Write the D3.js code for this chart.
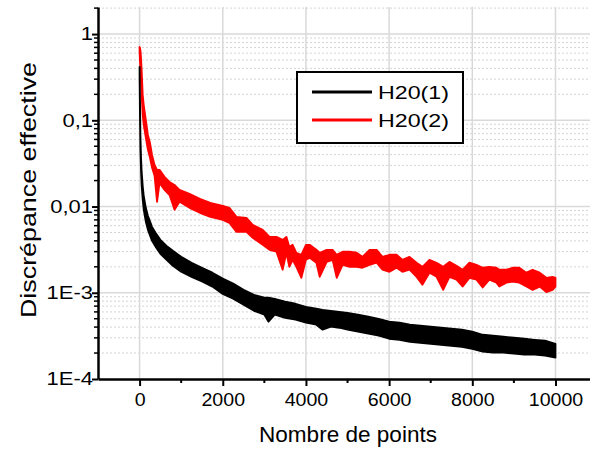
<!DOCTYPE html>
<html><head><meta charset="utf-8">
<script src="https://cdn.jsdelivr.net/npm/d3@7"></script>
<style>
html,body{margin:0;padding:0;background:#fff;}
text{font-family:"Liberation Sans",Arial,sans-serif;fill:#000;}
</style></head>
<body>
<svg id="chart" width="590" height="450"></svg>
<script>
// ---- data ----
const seriesNames = ["H20(1)", "H20(2)"];
const xTickValues = [0, 2000, 4000, 6000, 8000, 10000];
const yTickValues = [1, 0.1, 0.01, 0.001, 0.0001];
const yTickLabels = ["1", "0,1", "0,01", "1E-3", "1E-4"];

// H20(1): sample positions, upper and lower edge of the noisy band
const blackX = [0,10,20,35,50,75,100,150,200,300,
  400,500,650,800,1000,1250,1500,1750,2000,2250,
  2500,2750,3000,3100,3250,3500,3750,4000,4250,4400,
  4600,4800,5000,5250,5500,5750,6000,6250,6500,6750,
  7000,7250,7500,7750,8000,8250,8500,8750,9000,9250,
  9500,9750,10000];
const blackHi = [0.416,0.172,0.0677,0.0367,0.0252,0.0174,0.0133,0.00966,0.00780,0.00581,
  0.00482,0.00411,0.00350,0.00307,0.00261,0.00223,0.00195,0.00171,0.00146,0.00128,
  0.00108,0.000945,0.000876,0.000876,0.000852,0.000787,0.000746,0.000688,0.000653,0.000635,
  0.000618,0.000602,0.000586,0.000556,0.000527,0.000499,0.000462,0.000450,0.000426,0.000415,
  0.000404,0.000393,0.000383,0.000373,0.000354,0.000326,0.000318,0.000309,0.000301,0.000293,
  0.000285,0.000278,0.000256];
const blackLo = [0.336,0.101,0.0454,0.0252,0.0174,0.01196,0.00916,0.00664,0.00537,0.00400,
  0.00332,0.00283,0.00241,0.00205,0.00175,0.00153,0.00135,0.00118,0.000970,0.000852,
  0.000726,0.000618,0.000556,0.000462,0.000556,0.000513,0.000487,0.000450,0.000426,0.000373,
  0.000404,0.000393,0.000373,0.000354,0.000335,0.000318,0.000293,0.000285,0.000270,0.000263,
  0.000256,0.000249,0.000243,0.000236,0.000224,0.000208,0.000202,0.000202,0.000197,0.000192,
  0.000192,0.000187,0.000177];

// H20(2)
const redX = [0,10,25,50,75,100,150,200,250,300,
  360,420,480,600,720,840,960,1200,1450,1700,
  2000,2160,2330,2570,2720,2960,3125,3290,3440,3530,
  3600,3680,3770,3890,4000,4090,4250,4330,4500,4640,
  4740,4880,5050,5220,5360,5530,5700,5840,6010,6180,
  6320,6490,6660,6800,6970,7140,7300,7450,7620,7770,
  7930,8100,8250,8410,8580,8650,8820,8970,9130,9300,
  9450,9620,9780,9930,10000];
const redHi = [0.708,0.690,0.620,0.384,0.197,0.150,0.101,0.0677,0.0548,0.0397,
  0.0304,0.0266,0.0266,0.0221,0.0193,0.0178,0.0156,0.0140,0.01226,0.01104,
  0.01019,0.00966,0.00760,0.00740,0.00613,0.00537,0.00445,0.00445,0.00411,0.00445,
  0.00341,0.00360,0.00291,0.00276,0.00360,0.00360,0.00315,0.00291,0.00315,0.00315,
  0.00276,0.00299,0.00299,0.00291,0.00261,0.00315,0.00315,0.00261,0.00276,0.00276,
  0.00241,0.00261,0.00223,0.00200,0.00241,0.00223,0.00200,0.00228,0.00205,0.00185,
  0.00223,0.00211,0.00195,0.00200,0.00195,0.00185,0.00185,0.00195,0.00195,0.00171,
  0.00185,0.00171,0.00149,0.00153,0.00149];
const redLo = [0.620,0.475,0.336,0.197,0.115,0.0884,0.0625,0.0454,0.0367,0.0281,
  0.0227,0.01134,0.0188,0.0156,0.0136,0.00916,0.01134,0.00966,0.00846,0.00760,
  0.00701,0.00647,0.00509,0.00509,0.00434,0.00360,0.00315,0.00299,0.00185,0.00291,
  0.00200,0.00241,0.00200,0.00149,0.00241,0.00254,0.00223,0.00153,0.00228,0.00241,
  0.00149,0.00211,0.00200,0.00200,0.00195,0.00211,0.00223,0.00185,0.00175,0.00195,
  0.00175,0.00185,0.00153,0.00124,0.00171,0.00153,0.00108,0.00153,0.00142,0.00118,
  0.00149,0.00142,0.00115,0.00142,0.00131,0.00118,0.00131,0.00135,0.00131,0.00118,
  0.00108,0.00118,0.00102,0.00108,0.00118];

const colors = ["#000000", "#ff0000"];

// ---- layout ----
const svg = d3.select("#chart");
const L = 98, R = 590, T = 7, B = 379;
const x = d3.scaleLinear().domain([-1000, 10830]).range([L, R]);
const y = d3.scaleLog().domain([1e-4, 2.06]).range([B, T]);

// widen text along its own direction (the reference uses a wide sans face)
function stretch(sel, f) {
  sel.each(function () {
    const w = this.getComputedTextLength();
    d3.select(this).attr("textLength", w * f).attr("lengthAdjust", "spacingAndGlyphs");
  });
}

// grid
const grid = svg.append("g");
const minorY = [];
[1e-4, 1e-3, 1e-2, 1e-1, 1].forEach(d => { for (let k = 2; k <= 9; k++) { const v = d * k; if (v <= 2.06) minorY.push(v); } });
grid.selectAll(".gmy").data(minorY).enter().append("line")
  .attr("x1", L).attr("x2", R).attr("y1", d => y(d)).attr("y2", d => y(d))
  .attr("stroke", "#d4d4d4").attr("stroke-width", 1).attr("stroke-dasharray", "2,2");
grid.selectAll(".gMy").data(yTickValues.slice(0, 4)).enter().append("line")
  .attr("x1", L).attr("x2", R).attr("y1", d => y(d)).attr("y2", d => y(d))
  .attr("stroke", "#d9d9d9").attr("stroke-width", 1.5);
grid.selectAll(".gMx").data(xTickValues).enter().append("line")
  .attr("x1", d => x(d)).attr("x2", d => x(d)).attr("y1", T).attr("y2", B)
  .attr("stroke", "#d9d9d9").attr("stroke-width", 1.5);

// data bands
const plot = svg.append("g");
function band(xs, hi, lo, col) {
  const pts = xs.map((d, i) => ({ x: d, hi: hi[i], lo: lo[i] }));
  plot.append("path").datum(pts)
    .attr("d", d3.area().x(d => x(d.x)).y0(d => y(d.lo)).y1(d => y(d.hi)))
    .attr("fill", col).attr("stroke", col).attr("stroke-width", 1.8).attr("stroke-linejoin", "round");
}
band(redX, redHi, redLo, colors[1]);
band(blackX, blackHi, blackLo, colors[0]);

// axes
const xAxis = d3.axisBottom(x).tickValues(xTickValues).tickSize(7).tickSizeOuter(0).tickPadding(8)
  .tickFormat(d3.format("d"));
const gx = svg.append("g").attr("transform", `translate(0,${B})`).call(xAxis);
gx.select(".domain").attr("stroke-width", 2.5);
gx.selectAll(".tick line").attr("stroke-width", 2);
gx.selectAll(".tick text").attr("font-size", 17.5).attr("font-family", "Liberation Sans, Arial, sans-serif");
stretch(gx.selectAll(".tick text"), 1.12);
const xMinor = [1000, 3000, 5000, 7000, 9000];
gx.selectAll(".mx").data(xMinor).enter().append("line")
  .attr("x1", d => x(d)).attr("x2", d => x(d)).attr("y1", 0).attr("y2", 4)
  .attr("stroke", "#000").attr("stroke-width", 2);

const yAxis = d3.axisLeft(y).tickValues(yTickValues).tickSize(6).tickSizeOuter(0).tickPadding(-1)
  .tickFormat((d, i) => yTickLabels[i]);
const gy = svg.append("g").attr("transform", `translate(${L},0)`).call(yAxis);
gy.select(".domain").attr("stroke-width", 2.5);
gy.selectAll(".tick line").attr("stroke-width", 2);
gy.selectAll(".tick text").attr("font-size", 18).attr("font-family", "Liberation Sans, Arial, sans-serif");
stretch(gy.selectAll(".tick text"), 1.22);
gy.selectAll(".my").data(minorY).enter().append("line")
  .attr("x1", 0).attr("x2", -4).attr("y1", d => y(d)).attr("y2", d => y(d))
  .attr("stroke", "#000").attr("stroke-width", 1.5);

// titles
const xt = svg.append("text").attr("x", 348).attr("y", 442).attr("text-anchor", "middle")
  .attr("font-size", 21.5).text("Nombre de points");
xt.attr("textLength", 178).attr("lengthAdjust", "spacingAndGlyphs");
const yt = svg.append("text").attr("transform", "translate(36,190) rotate(-90)").attr("text-anchor", "middle")
  .attr("font-size", 22).text("Discrépance effective");
yt.attr("textLength", 256).attr("lengthAdjust", "spacingAndGlyphs");

// legend
const lg = svg.append("g");
lg.append("rect").attr("x", 297).attr("y", 72).attr("width", 166).attr("height", 71)
  .attr("fill", "#fff").attr("stroke", "#000").attr("stroke-width", 2);
seriesNames.forEach((n, i) => {
  const yy = 92 + i * 28;
  lg.append("line").attr("x1", 312).attr("x2", 372).attr("y1", yy).attr("y2", yy)
    .attr("stroke", colors[i]).attr("stroke-width", 3);
  lg.append("text").attr("x", 378).attr("y", yy + 7).attr("font-size", 18.5).text(n)
    .attr("textLength", 71).attr("lengthAdjust", "spacingAndGlyphs");
});
</script>
</body></html>
